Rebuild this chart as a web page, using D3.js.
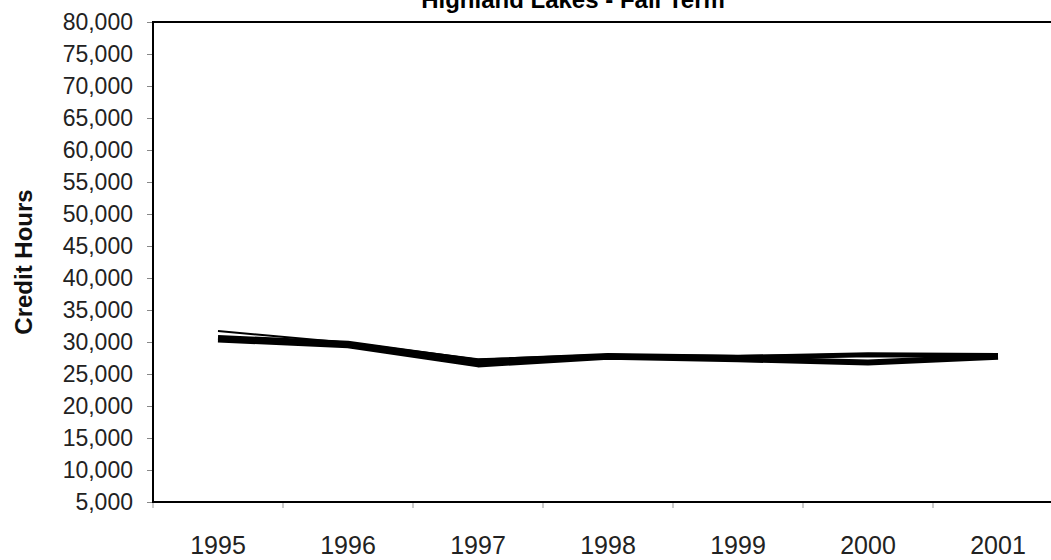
<!DOCTYPE html>
<html>
<head>
<meta charset="utf-8">
<script src="https://cdn.jsdelivr.net/npm/d3@7"></script>
<style>
  html, body { margin: 0; padding: 0; background: #fff; }
  svg { display: block; font-family: "Liberation Sans", Arial, sans-serif; }
</style>
</head>
<body>
<svg id="chart" width="1051" height="560"></svg>
<script>
const years = ["1995", "1996", "1997", "1998", "1999", "2000", "2001"];
const yTicks = [5000, 10000, 15000, 20000, 25000, 30000, 35000, 40000, 45000, 50000, 55000, 60000, 65000, 70000, 75000, 80000];
const seriesThin = [31700, 29900, 27300, 28000, 27800, 28100, 28000];
const seriesA = [30700, 29800, 27000, 27900, 27600, 28000, 27900];
const seriesB = [30400, 29500, 26500, 27700, 27300, 26800, 27700];
const titleText = "Highland Lakes - Fall Term";
const yTitle = "Credit Hours";

const svg = d3.select("#chart");
const mLeft = 153, mRight = 1063, mTop = 22, mBottom = 502;

const x = d3.scaleBand().domain(years).range([mLeft, mRight]).padding(0);
const y = d3.scaleLinear().domain([5000, 80000]).range([mBottom, mTop]);

// title
svg.append("text")
  .attr("x", 573).attr("y", 8)
  .attr("text-anchor", "middle")
  .attr("font-size", 24).attr("font-weight", "bold")
  .attr("fill", "#000")
  .text(titleText);

// y axis title
svg.append("text")
  .attr("transform", "translate(32,262) rotate(-90)")
  .attr("text-anchor", "middle")
  .attr("font-size", 24).attr("font-weight", "bold")
  .attr("fill", "#111")
  .text(yTitle);

// y axis
const yAxis = svg.append("g")
  .attr("transform", `translate(${mLeft},0)`)
  .call(d3.axisLeft(y).tickValues(yTicks).tickSize(6).tickPadding(14).tickFormat(d3.format(",")));
yAxis.select(".domain").remove();
yAxis.selectAll(".tick line").attr("stroke", "#888");
yAxis.selectAll(".tick text").attr("font-size", 23).attr("fill", "#222")
  .attr("font-family", "Liberation Sans, Arial, sans-serif");

// x axis labels
const xAxis = svg.append("g")
  .attr("transform", `translate(0,${mBottom})`)
  .call(d3.axisBottom(x).tickSize(0).tickPadding(34));
xAxis.select(".domain").remove();
xAxis.selectAll(".tick text").attr("font-size", 25).attr("fill", "#222")
  .attr("font-family", "Liberation Sans, Arial, sans-serif");

// x tick marks at band boundaries
const bounds = years.map(d => x(d)).concat([x(years[years.length - 1]) + x.bandwidth()]);
svg.append("g").selectAll("line").data(bounds).join("line")
  .attr("x1", d => d).attr("x2", d => d)
  .attr("y1", mBottom).attr("y2", mBottom + 6)
  .attr("stroke", "#999").attr("stroke-width", 1);

// plot frame
svg.append("rect")
  .attr("x", mLeft).attr("y", mTop)
  .attr("width", mRight - mLeft).attr("height", mBottom - mTop)
  .attr("fill", "none").attr("stroke", "#000").attr("stroke-width", 2);

// lines
const line = d3.line()
  .x((d, i) => x(years[i]) + x.bandwidth() / 2)
  .y(d => y(d));

svg.append("path").datum(seriesB)
  .attr("d", line).attr("fill", "none")
  .attr("stroke", "#000").attr("stroke-width", 6).attr("stroke-linejoin", "round");
svg.append("path").datum(seriesA)
  .attr("d", line).attr("fill", "none")
  .attr("stroke", "#000").attr("stroke-width", 5).attr("stroke-linejoin", "round");
svg.append("path").datum(seriesThin)
  .attr("d", line).attr("fill", "none")
  .attr("stroke", "#000").attr("stroke-width", 2).attr("stroke-linejoin", "round");
</script>
</body>
</html>
